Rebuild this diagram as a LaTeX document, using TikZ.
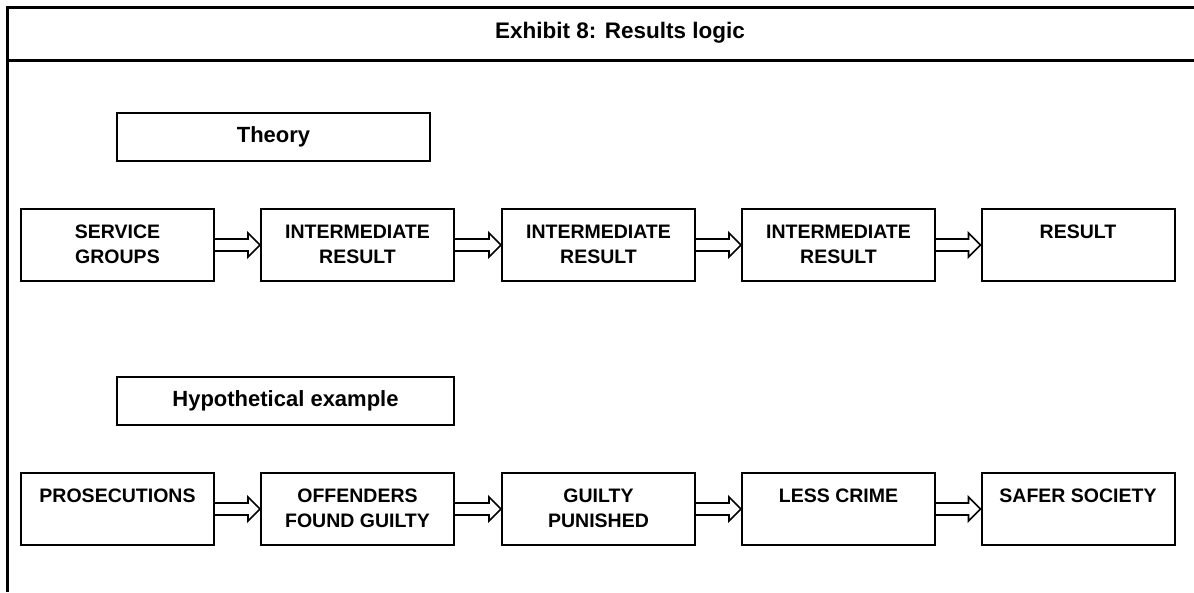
\documentclass[tikz,border=0pt]{standalone}
\usepackage{fontspec}
\setmainfont{Liberation Sans}
\usetikzlibrary{calc}
\tikzset{
  frame/.style={line width=3pt},
  box/.style={draw, line width=2pt, minimum width=193pt, minimum height=72pt, inner sep=0pt},
  hbox/.style={draw, line width=2pt, minimum height=48pt, inner sep=0pt,
     font=\fontsize{22}{26}\selectfont\bfseries},
  lbl/.style={inner sep=0pt, anchor=north, align=center,
     font=\fontsize{19.5}{24.5}\selectfont\bfseries},
  arr/.style={line width=1.6pt, line join=miter},
}
\newcommand{\fatarrow}[2]{%
  \draw[arr] ($(#1.east)+(0,6)$) -- ($(#2.west)+(-12,6)$) -- ($(#2.west)+(-12,12)$)
    -- (#2.west) -- ($(#2.west)+(-12,-12)$) -- ($(#2.west)+(-12,-6)$) -- ($(#1.east)+(0,-6)$);}
\begin{document}
\begin{tikzpicture}[x=1pt,y=-1pt]
\useasboundingbox (0,0) rectangle (1194,592);
% frame
\draw[frame] (7,592) -- (7,7) -- (1194,7);
\draw[frame] (7,60) -- (1194,60);
\node[font=\fontsize{22.5}{26}\selectfont\bfseries, anchor=base] (title) at (620,38) {Exhibit 8: Results logic};
% headings
\node[hbox, minimum width=313pt] (theory) at (273.5,137) {Theory};
\node[hbox, minimum width=337pt] (hypo) at (285.5,401) {Hypothetical example};
% row 1
\node[box] (a1) at (117.5,245) {};
\node[box] (a2) at (357.5,245) {};
\node[box] (a3) at (598.5,245) {};
\node[box] (a4) at (838.5,245) {};
\node[box] (a5) at (1078,245) {};
\node[lbl] (ta1) at ($(a1.north)+(0,17)$) {SERVICE\\GROUPS};
\node[lbl] (ta2) at ($(a2.north)+(0,17)$) {INTERMEDIATE\\RESULT};
\node[lbl] (ta3) at ($(a3.north)+(0,17)$) {INTERMEDIATE\\RESULT};
\node[lbl] (ta4) at ($(a4.north)+(0,17)$) {INTERMEDIATE\\RESULT};
\node[lbl] (ta5) at ($(a5.north)+(0,17)$) {RESULT};
\fatarrow{a1}{a2}
\fatarrow{a2}{a3}
\fatarrow{a3}{a4}
\fatarrow{a4}{a5}
% row 2
\node[box] (b1) at (117.5,509) {};
\node[box] (b2) at (357.5,509) {};
\node[box] (b3) at (598.5,509) {};
\node[box] (b4) at (838.5,509) {};
\node[box] (b5) at (1078,509) {};
\node[lbl] (tb1) at ($(b1.north)+(0,17)$) {PROSECUTIONS};
\node[lbl] (tb2) at ($(b2.north)+(0,17)$) {OFFENDERS\\FOUND GUILTY};
\node[lbl] (tb3) at ($(b3.north)+(0,17)$) {GUILTY\\PUNISHED};
\node[lbl] (tb4) at ($(b4.north)+(0,17)$) {LESS CRIME};
\node[lbl] (tb5) at ($(b5.north)+(0,17)$) {SAFER SOCIETY};
\fatarrow{b1}{b2}
\fatarrow{b2}{b3}
\fatarrow{b3}{b4}
\fatarrow{b4}{b5}
\end{tikzpicture}
\end{document}
